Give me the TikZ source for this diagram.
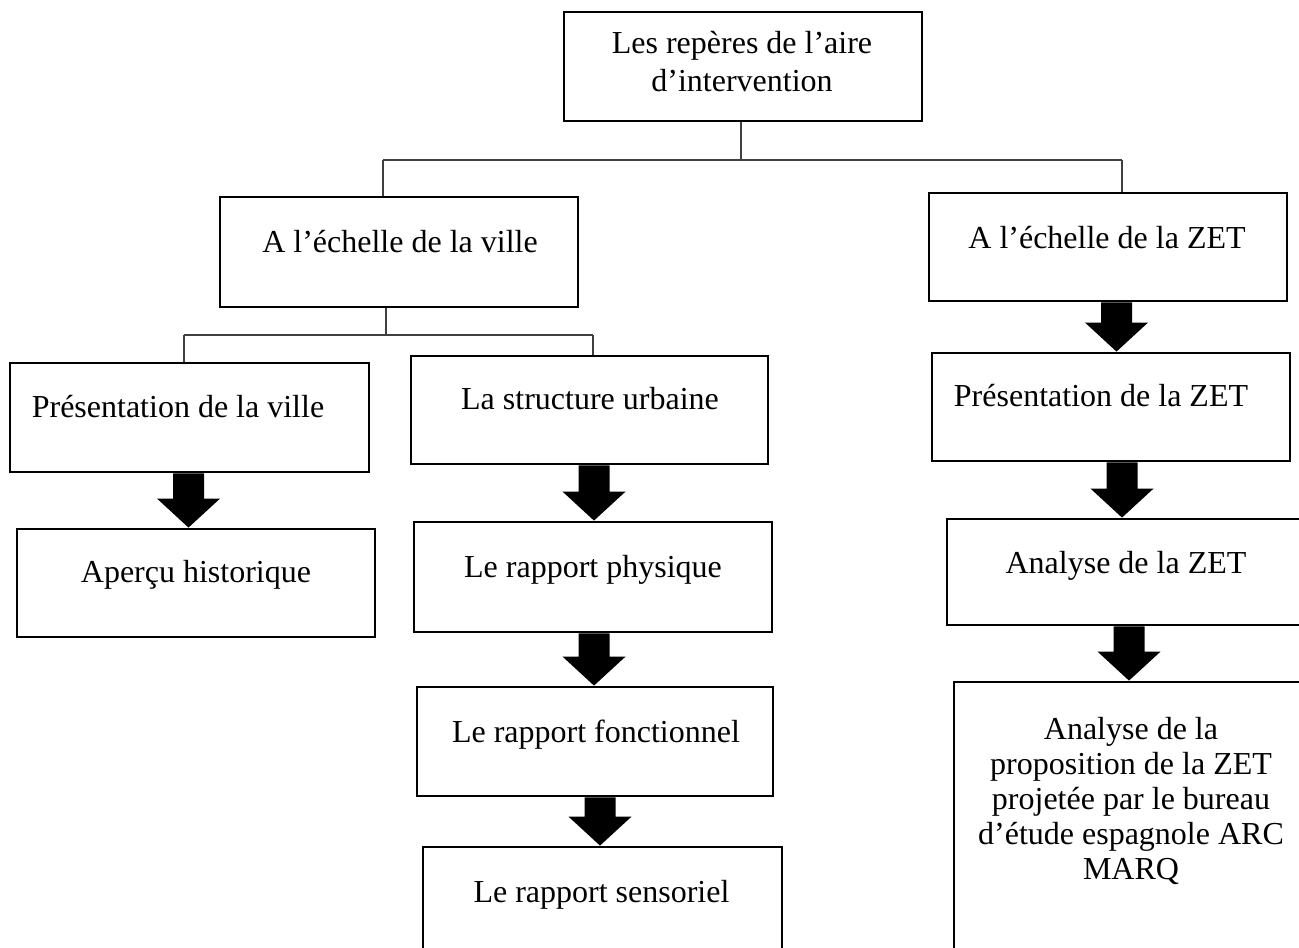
\documentclass[tikz,border=0pt]{standalone}
\usepackage{fontspec}
\setmainfont{Liberation Serif}
\usetikzlibrary{calc}
\tikzset{
  box/.style={draw=black, line width=2.8pt, rectangle, inner sep=0pt},
  txt/.style={font=\fontsize{32}{35}\selectfont, inner sep=0pt, anchor=base, align=center},
  conn/.style={draw=black!75, line width=1.5pt},
  arrowfill/.style={fill=black}
}
\newcommand\blockarr[3]{%
  \fill[arrowfill] let \p1=(#1.south -| #3,0), \p2=(#2.north -| #3,0) in
   (\x1-15.5pt,\y1) -- (\x1+15.5pt,\y1) -- (\x1+15.5pt,\y2+29pt) -- (\x1+31.5pt,\y2+29pt)
   -- (\x1,\y2) -- (\x1-31.5pt,\y2+29pt) -- (\x1-15.5pt,\y2+29pt) -- cycle;}
\begin{document}
\begin{tikzpicture}[x=1pt,y=-1pt]
\useasboundingbox[fill=white] (0,0) rectangle (1299,948);
% boxes
\node[box, minimum width=358pt, minimum height=109pt] (top) at (743,66.5) {};
\node[box, minimum width=358pt, minimum height=110pt] (ville) at (399,252) {};
\node[box, minimum width=358pt, minimum height=108pt] (zet) at (1108,247) {};
\node[box, minimum width=359pt, minimum height=109pt] (pv) at (189.5,417.5) {};
\node[box, minimum width=357pt, minimum height=108pt] (su) at (589.5,410) {};
\node[box, minimum width=358pt, minimum height=108pt] (ap) at (196,583) {};
\node[box, minimum width=358pt, minimum height=110pt] (ph) at (593,577) {};
\node[box, minimum width=356pt, minimum height=109pt] (fo) at (595,741.5) {};
\node[box, minimum width=359pt, minimum height=109pt] (se) at (602.5,901.5) {};
\node[box, minimum width=358pt, minimum height=108pt] (pz) at (1111,407) {};
\node[box, minimum width=358pt, minimum height=106pt] (az) at (1126,572) {};
\node[box, minimum width=358pt, minimum height=318pt] (last) at (1133,841) {};
% texts
\node[txt, font=\fontsize{32}{38}\selectfont] (ttop) at (742,91) {Les repères de l’aire\\d’intervention};
\node[txt] (tville) at (400,252) {A l’échelle de la ville};
\node[txt] (tzet) at (1107,248) {A l’échelle de la ZET};
\node[txt] (tpv) at (178,417) {Présentation de la ville};
\node[txt] (tsu) at (590,409) {La structure urbaine};
\node[txt] (tap) at (196,582) {Aperçu historique};
\node[txt] (tph) at (593,577) {Le rapport physique};
\node[txt] (tfo) at (596,742) {Le rapport fonctionnel};
\node[txt] (tse) at (601.5,902) {Le rapport sensoriel};
\node[txt] (tpz) at (1101,406) {Présentation de la ZET};
\node[txt] (taz) at (1126,573) {Analyse de la ZET};
\node[txt] (tlast) at (1131,879) {Analyse de la\\proposition de la ZET\\projetée par le bureau\\d’étude espagnole ARC\\MARQ};
% tree connectors
\coordinate (bl) at (383,160);
\coordinate (br) at (1122,160);
\draw[conn] ([xshift=-2pt]top.south) -- ([xshift=-2pt]top.south |- bl);
\draw[conn] (bl) -- (br);
\draw[conn] (bl) -- (bl |- ville.north);
\draw[conn] (br) -- (br |- zet.north);
\coordinate (cl) at (184,335);
\coordinate (cr) at (593,335);
\draw[conn] ([xshift=-13pt]ville.south) -- ([xshift=-13pt]ville.south |- cl);
\draw[conn] (cl) -- (cr);
\draw[conn] (cl) -- (cl |- pv.north);
\draw[conn] (cr) -- (cr |- su.north);
% block arrows
\blockarr{pv}{ap}{188.5}
\blockarr{su}{ph}{594}
\blockarr{ph}{fo}{594}
\blockarr{fo}{se}{600}
\blockarr{zet}{pz}{1116.5}
\blockarr{pz}{az}{1122}
\blockarr{az}{last}{1129}
\end{tikzpicture}
\end{document}
